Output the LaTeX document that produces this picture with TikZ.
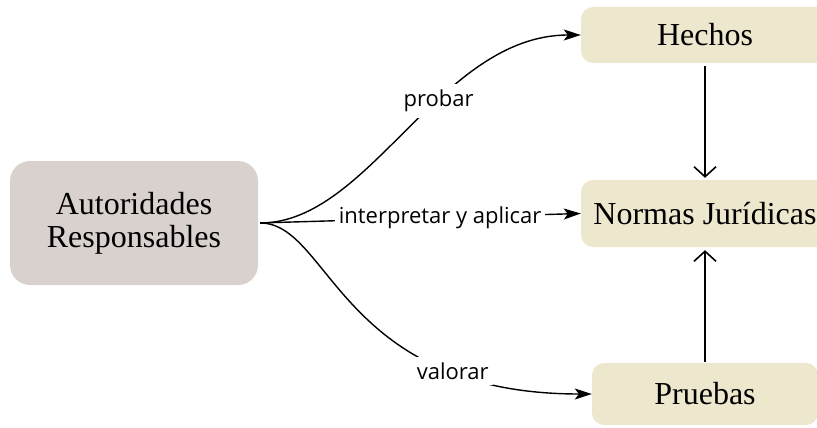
\documentclass[tikz,border=0pt]{standalone}
\usepackage{fontspec}
\setmainfont{Liberation Serif}
\newfontfamily\labelfont{Open Sans}
\usetikzlibrary{arrows.meta}
\definecolor{authfill}{RGB}{217,209,205}
\definecolor{itemfill}{RGB}{237,231,206}

\begin{document}
\begin{tikzpicture}[x=1pt,y=-1pt,
  box/.style={inner sep=0pt, align=center, font=\fontsize{32}{33}\selectfont},
  itembox/.style={box, fill=itemfill, rounded corners=12pt},
  lbl/.style={fill=white, inner xsep=4pt, inner ysep=6pt, font=\labelfont\fontsize{22}{24}\selectfont},
  flow/.style={line width=1.4pt, -{Stealth[length=17pt,width=11pt,inset=4pt]}},
  link/.style={line width=1.6pt, -{Straight Barb[length=10pt,width=22pt]}}
]
\useasboundingbox (0,0) rectangle (817,428);
\clip (0,0) rectangle (817,428);

% boxes
\node[box, fill=authfill, rounded corners=20pt, minimum width=248pt, minimum height=124pt]
  (aut) at (134,223) {Autoridades\\Responsables};
\node[itembox, minimum width=248pt, minimum height=56pt] (hechos) at (705,35) {Hechos};
\node[itembox, minimum width=248pt, minimum height=67pt] (normas) at (705,213.5) {Normas Jurídicas};
\node[itembox, minimum width=226pt, minimum height=62pt] (pruebas) at (705,394) {Pruebas};

% connectors from the authorities
\draw[flow, shorten <=2pt] (aut.east) .. controls +(112,0) and +(-141,0) ..
  node[lbl, pos=0.6] (lprobar) {probar} (hechos.west);
\draw[flow, shorten <=2pt] (aut.east) --
  node[lbl, pos=0.564] (linterp) {interpretar y aplicar} (normas.west);
\draw[flow, shorten <=2pt] (aut.east) .. controls +(72,0) and +(-252,0) ..
  node[lbl, pos=0.77] (lvalorar) {valorar} (pruebas.west);

% vertical links
\draw[link, shorten <=3pt, shorten >=2pt] (hechos.south) -- (normas.north);
\draw[link, shorten <=1pt, shorten >=3pt] (pruebas.north) -- (normas.south);
\end{tikzpicture}
\end{document}
